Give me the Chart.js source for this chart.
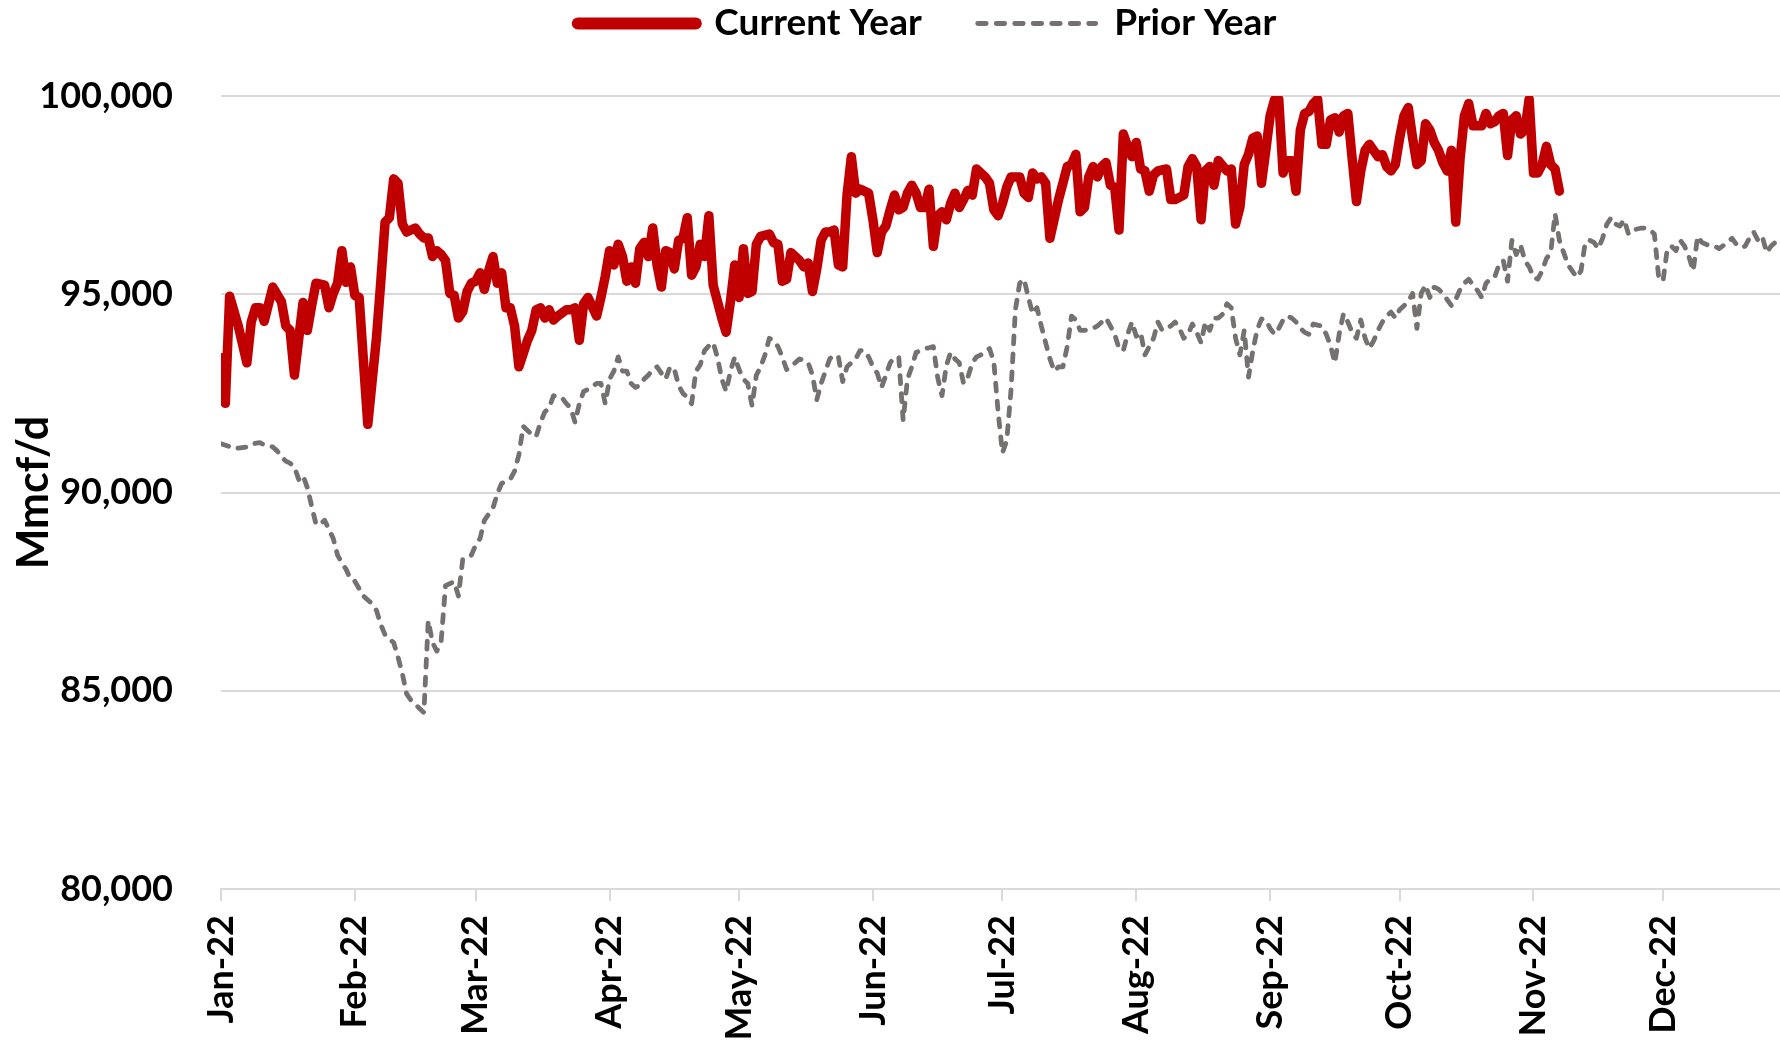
<!DOCTYPE html>
<html>
<head>
<meta charset="utf-8">
<script src="https://cdn.jsdelivr.net/npm/chart.js@4.4.1/dist/chart.umd.min.js"></script>
<style>
  html, body { margin: 0; padding: 0; background: #ffffff; }
  #wrap { width: 1780px; height: 1043px; overflow: hidden; }
</style>
</head>
<body>
<div id="wrap"><canvas id="c" width="1780" height="1043"></canvas></div>
<script>
// ---- Data (day index from Jan 1, 2022) ----
const MONTH_LABELS = ['Jan-22','Feb-22','Mar-22','Apr-22','May-22','Jun-22','Jul-22','Aug-22','Sep-22','Oct-22','Nov-22','Dec-22'];
const MONTH_START_DAYS = [0,31,59,90,120,151,181,212,243,273,304,334];
const VIEW_LAST_DAY = 361.1;

const Y_TICKS = [80000, 85000, 90000, 95000, 100000];

const CURRENT_LABEL = 'Current Year';
const CURRENT_DAYS = [
  0,1,2,4,6,7,8,9,10,12,14,15,16,17,19,20,21,22,24,25,26,27,28,29,30,31,32,33,34,36,37,38,39,40,41,42,43,45,46,47,48,49,
  50,51,52,53,54,55,56,57,58,59,60,61,62,63,64,65,66,67,68,69,71,72,73,74,75,76,77,78,80,81,82,83,84,85,87,88,89,
  90,91,92,93,94,95,96,97,98,99,100,101,102,103,104,105,106,107,108,109,110,111,112,113,114,116,117,118,119,
  120,121,122,123,124,125,127,128,129,130,131,132,134,135,136,137,138,139,140,141,142,143,144,145,146,147,148,150,
  151,152,153,154,155,156,157,158,159,160,161,162,163,164,165,166,167,168,169,170,171,172,173,174,175,176,177,178,179,
  180,181,182,183,185,186,187,188,189,190,191,192,194,195,196,197,198,199,200,201,202,203,204,205,206,207,208,209,
  210,211,212,213,214,215,216,217,219,220,221,223,224,225,226,227,228,229,230,231,233,234,235,236,237,238,239,
  240,241,242,243,244,245,246,247,248,249,250,251,252,253,254,255,256,257,258,259,260,261,262,263,264,265,266,268,269,
  270,271,272,273,274,275,276,277,278,279,280,281,282,283,284,285,286,287,288,289,290,292,293,294,295,296,297,298,299,
  300,301,302,303,304,305,306,307,308,309,310
];
const CURRENT_VALUES = [
  93400,92250,94950,94200,93270,94300,94660,94660,94320,95180,94810,94200,94090,92960,94790,94090,94710,95280,95230,94660,95020,95280,96100,95300,95690,94970,94920,93300,91720,93890,95300,96820,96930,97910,97800,96770,96570,96670,96520,96420,96420,95950,
  96100,96000,95850,95020,94970,94400,94560,95070,95280,95330,95540,95120,95590,95950,95280,95540,94660,94660,94200,93170,93840,94090,94610,94660,94400,94610,94350,94450,94610,94610,94660,93840,94760,94920,94450,94920,95450,
  96100,95740,96260,95950,95330,95690,95280,96150,96310,95950,96670,95740,95180,96100,96050,95640,96360,96410,96930,95480,95690,96260,95950,96980,95230,94400,94040,94820,95740,
  94920,96150,95020,95070,96260,96460,96520,96300,96260,95330,95380,96050,95850,95690,95790,95070,95640,96360,96570,96570,96620,95740,95690,97500,98470,97550,97650,97550,
  96880,96050,96570,96720,97130,97500,97130,97190,97550,97750,97550,97190,97190,97650,96210,96980,97080,96880,97290,97550,97190,97390,97620,97500,98160,98060,97960,97800,97130,
  96980,97290,97700,97960,97960,97550,97440,98060,97910,97960,97800,96410,97390,97800,98220,98270,98530,97080,97190,97960,98220,97960,98220,98320,97750,97700,96620,99040,
  98730,98470,98830,98160,98110,97600,98010,98110,98160,97390,97390,97500,98220,98420,98220,96880,98110,98220,97750,98370,98110,98160,96770,97190,98270,98530,98940,
  98990,97800,98630,99500,99900,99920,98060,98370,98370,97600,99140,99560,99610,99810,99920,98780,98780,99400,99450,99090,99500,99560,98420,97340,98110,98630,98780,98470,98520,
  98220,98110,98270,98940,99500,99710,98940,98270,98370,99300,99140,98830,98630,98320,98110,98630,96820,98420,99500,99810,99250,99250,99560,99300,99350,99500,99560,98500,99400,
  99500,99040,99140,99920,98060,98060,98270,98730,98270,98160,97600
];

const PRIOR_LABEL = 'Prior Year';
const PRIOR_DAYS = [
  0,2,3,4,6,7,9,10,12,13,14,15,16,17,18,19,20,21,22,23,24,26,27,28,29,30,31,33,34,35,36,37,38,40,41,42,43,44,45,46,47,48,49,
  50,51,52,54,55,56,58,59,60,61,63,64,65,67,68,69,70,72,73,74,75,76,77,79,80,81,82,83,84,85,87,88,89,
  90,91,92,93,94,95,96,97,98,99,100,101,102,103,104,105,106,107,108,109,110,111,112,113,114,115,116,117,118,119,
  120,121,122,123,124,125,126,127,128,129,130,131,133,134,135,136,137,138,139,140,141,142,143,144,145,146,147,148,149,
  150,151,152,153,154,155,156,157,158,159,160,161,162,163,164,165,166,167,168,169,170,171,172,173,174,175,176,177,178,179,
  180,181,182,183,184,185,186,187,188,189,190,191,192,193,194,195,196,197,198,199,200,202,203,204,205,206,207,208,209,
  210,211,212,213,214,215,216,217,218,219,220,221,222,223,224,225,226,227,228,229,230,231,232,233,234,235,236,237,238,239,
  240,241,242,243,244,245,246,247,248,249,250,251,252,253,254,255,256,257,258,259,260,261,262,263,264,265,266,267,268,269,
  270,271,272,273,274,275,276,277,278,279,280,281,282,283,285,286,287,288,289,290,291,292,293,294,295,296,297,298,299,
  300,301,302,303,304,305,306,307,308,309,310,311,312,314,315,316,317,318,319,320,321,322,323,324,325,326,327,329,
  330,331,332,333,334,335,336,337,338,339,340,341,342,343,345,346,347,349,350,351,352,353,354,355,356,357,358,359,360,361
];
const PRIOR_VALUES = [
  91230,91160,91100,91120,91150,91220,91260,91200,91150,91050,90900,90790,90740,90640,90330,90430,90120,89660,89200,89200,89300,88840,88420,88220,88060,87810,87760,87390,87290,87190,87030,86670,86410,86210,85850,85430,84920,84760,84660,84550,84450,86770,86210,
  86000,86260,87650,87750,87390,88320,88420,88680,88840,89300,89610,89970,90230,90330,90540,90950,91670,91460,91410,91770,92030,92130,92440,92390,92240,92130,91770,92240,92550,92600,92750,92750,92240,
  92860,93060,93420,93060,93060,92750,92650,92700,92860,92960,93110,93170,93010,92860,93170,93110,92700,92500,92400,92240,93060,93220,93580,93700,93780,93400,92860,92550,93060,93420,
  93100,92860,92750,92190,92960,93170,93470,93890,93830,93680,93420,93100,93270,93370,93320,93270,92960,92340,92750,93060,93370,93470,93420,92800,93170,93270,93370,93580,93580,
  93420,93170,93010,92650,92960,93270,93420,93400,91820,92860,93170,93530,93580,93630,93650,93680,92900,92440,93200,93530,93370,93270,92750,92910,93270,93420,93470,93550,93630,93300,
  92030,91000,91310,92600,94610,95280,95380,94920,94510,94660,94200,93780,93370,93060,93170,93170,93680,94450,94350,94090,94090,94140,94200,94300,94400,94200,93990,93630,93580,
  93990,94300,93940,94040,93470,93680,93890,94300,94090,94140,94200,94300,94140,93890,93990,94250,94040,93780,94300,94090,94400,94400,94500,94760,94660,93890,93470,94090,92910,93580,
  94100,94380,94350,94140,93990,94140,94350,94450,94400,94300,94140,94040,93990,94250,94220,94200,93990,93700,93270,94000,94510,94300,94040,93890,94350,93890,93630,93830,94090,94300,
  94450,94550,94400,94610,94710,94810,95020,94140,95020,95230,94920,95180,95130,95020,94710,94870,95120,95280,95380,95230,95100,94920,95280,95380,95430,95740,95850,95330,96360,
  96000,96250,95850,95690,95430,95380,95590,95900,96050,97030,96360,96050,95740,95430,95590,96310,96360,96310,96150,96410,96770,96930,96770,96720,96880,96520,96620,96670,
  96670,96620,96520,95430,95330,96150,96210,96100,96360,96210,95950,95590,96460,96310,96210,96210,96150,96310,96410,96260,96180,96210,96410,96570,96360,96460,96050,96210,96310,96360
];

const Y_TITLE = 'Mmcf/d';

// ---- Layout constants (pixels) ----
const LEGEND_TOP = -51;
const PLOT_TOP = 96;
const PLOT_LEFT = 221;
const LEGEND_LEFT = 74;
const X_AXIS_HEIGHT = 154;

function pts(days, vals) { return days.map((d, i) => ({ x: d, y: vals[i] })); }

const legendBand = {
  id: 'legendBand',
  beforeInit(chart) {
    const lg = chart.legend;
    if (!lg) return;
    const orig = lg.fit;
    lg.fit = function () { orig.call(this); this.height = PLOT_TOP - LEGEND_TOP; };
  },
  afterLayout(chart) {
    const lg = chart.legend;
    if (lg) { lg.left = LEGEND_LEFT; }
  }
};

const LEGEND_STYLE = [
  { lineWidth: 12, lineDash: [] },
  { lineWidth: 4.8, lineDash: [8.5, 10] }
];

function draw() {
  Chart.defaults.font.family = 'Lato, "Open Sans", sans-serif';
  Chart.defaults.color = '#000000';
  new Chart(document.getElementById('c'), {
    type: 'line',
    data: {
      datasets: [
        {
          label: CURRENT_LABEL,
          data: pts(CURRENT_DAYS, CURRENT_VALUES),
          borderColor: '#C00000',
          backgroundColor: '#C00000',
          borderWidth: 9.5,
          borderJoinStyle: 'round',
          borderCapStyle: 'round',
          pointRadius: 0,
          tension: 0,
          order: 0
        },
        {
          label: PRIOR_LABEL,
          data: pts(PRIOR_DAYS, PRIOR_VALUES),
          borderColor: '#767171',
          backgroundColor: '#767171',
          borderWidth: 4.8,
          borderDash: [8, 10],
          borderJoinStyle: 'round',
          borderCapStyle: 'round',
          pointRadius: 0,
          tension: 0,
          order: 1
        }
      ]
    },
    options: {
      responsive: false,
      animation: false,
      devicePixelRatio: 1,
      layout: { padding: { top: LEGEND_TOP, left: 0, right: 0, bottom: 0 } },
      plugins: {
        tooltip: { enabled: false },
        legend: {
          display: true,
          position: 'top',
          labels: {
            usePointStyle: true,
            pointStyle: 'line',
            pointStyleWidth: 118,
            padding: 56,
            color: '#000000',
            font: { size: 37, weight: 'bold' },
            generateLabels(chart) {
              return chart.data.datasets.map((ds, i) => ({
                text: ds.label,
                fillStyle: ds.borderColor,
                strokeStyle: ds.borderColor,
                lineWidth: LEGEND_STYLE[i].lineWidth,
                lineDash: LEGEND_STYLE[i].lineDash,
                lineCap: 'round',
                pointStyle: 'line',
                hidden: false,
                datasetIndex: i,
                fontColor: '#000000'
              }));
            }
          }
        }
      },
      scales: {
        x: {
          type: 'linear',
          min: 0,
          max: VIEW_LAST_DAY,
          afterBuildTicks(scale) { scale.ticks = MONTH_START_DAYS.map(v => ({ value: v })); },
          afterFit(scale) { scale.height = X_AXIS_HEIGHT; },
          grid: { drawOnChartArea: false, drawTicks: true, tickLength: 12, color: '#D9D9D9', lineWidth: 2 },
          border: { display: true, color: '#D9D9D9', width: 2 },
          ticks: {
            autoSkip: false,
            maxRotation: 90,
            minRotation: 90,
            padding: 14,
            color: '#000000',
            font: { size: 36, weight: 'bold' },
            callback(value) {
              const i = MONTH_START_DAYS.indexOf(value);
              return i >= 0 ? MONTH_LABELS[i] : '';
            }
          }
        },
        y: {
          type: 'linear',
          min: Y_TICKS[0],
          max: Y_TICKS[Y_TICKS.length - 1],
          afterBuildTicks(scale) { scale.ticks = Y_TICKS.map(v => ({ value: v })); },
          afterFit(scale) { scale.width = PLOT_LEFT; },
          grid: { color: '#D9D9D9', lineWidth: 2, drawTicks: false },
          border: { display: false },
          ticks: {
            padding: 48,
            color: '#000000',
            font: { size: 36, weight: 'bold' },
            callback(value) { return Number(value).toLocaleString('en-US'); }
          },
          title: {
            display: true,
            text: Y_TITLE,
            color: '#000000',
            font: { size: 43, weight: 'bold' },
            padding: { top: 8, bottom: 0 }
          }
        }
      }
    },
    plugins: [legendBand]
  });
}

if (document.fonts && document.fonts.load) {
  Promise.all([
    document.fonts.load('bold 36px Lato'),
    document.fonts.load('bold 43px Lato')
  ]).then(draw, draw);
} else {
  draw();
}
</script>
</body>
</html>
